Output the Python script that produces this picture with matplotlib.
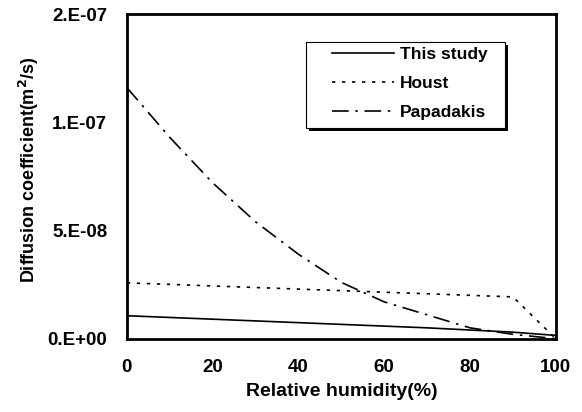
import numpy as np
import matplotlib
matplotlib.use("Agg")
import matplotlib.pyplot as plt
from matplotlib.patches import Rectangle
from matplotlib.ticker import FuncFormatter

plt.rcParams['font.family'] = ['Liberation Sans', 'DejaVu Sans']
plt.rcParams['font.weight'] = 'bold'

# Relative humidity (%)
rh = [0, 10, 20, 30, 40, 50, 60, 70, 80, 90, 100]
# diffusion coefficients (m2/s)
this_study = [10.6e-9, 9.8e-9, 9.0e-9, 8.2e-9, 7.4e-9, 6.6e-9, 5.8e-9, 5.0e-9, 4.0e-9, 3.0e-9, 1.5e-9]
houst_rh = [0, 90, 100]
houst = [25.8e-9, 19.3e-9, 0.0]
papadakis = [116e-9, 93e-9, 72e-9, 54e-9, 39e-9, 26e-9, 17e-9, 11e-9, 5e-9, 2e-9, 0.0]

yticks = [0, 5e-8, 1e-7, 1.5e-7]

def sci_fmt(v, pos):
    if v == 0:
        return '0.E+00'
    e = int(np.floor(np.log10(abs(v))))
    m = v / 10**e
    return f'{m:.0f}.E{e:+03d}'

fig = plt.figure(figsize=(5.82, 4.12), dpi=100)
ax = fig.add_axes([0.218, 0.178, 0.737, 0.788])

ax.plot(rh, this_study, color='black', lw=1.2, label='This study')
ax.plot(houst_rh, houst, color='black', lw=1.2, linestyle=(0, (2, 4)), label='Houst')
ax.plot(rh, papadakis, color='black', lw=1.2, linestyle=(0, (10, 4, 1.5, 4)), label='Papadakis')

ax.set_xlim(0, 100)
ax.set_ylim(0, 1.5e-7)
ax.set_xticks([0, 20, 40, 60, 80, 100])
ax.set_yticks(yticks)
ax.yaxis.set_major_formatter(FuncFormatter(sci_fmt))
ax.tick_params(length=0, labelsize=13.5)
ax.tick_params(axis='y', pad=14)
ax.tick_params(axis='x', pad=15)
for s in ax.spines.values():
    s.set_linewidth(2)

ax.set_xlabel('Relative humidity(%)', fontsize=14, fontweight='bold', labelpad=5)
ax.set_ylabel('Diffusion coefficient(m$^\\mathbf{2}$/s)', fontsize=13, fontweight='bold')
ax.yaxis.set_label_coords(-0.2, 0.52)

# legend frame with dark drop shadow
ax.add_patch(Rectangle((0.424, 0.641), 0.464, 0.264, transform=ax.transAxes,
                       facecolor='black', edgecolor='none', zorder=4))
ax.add_patch(Rectangle((0.417, 0.650), 0.464, 0.264, transform=ax.transAxes,
                       facecolor='white', edgecolor='black', lw=0.8, zorder=5))
leg = ax.legend(loc='upper left', bbox_to_anchor=(0.478, 0.899), fontsize=12.5, frameon=False,
                handlelength=3.6, handletextpad=0.3, labelspacing=0.8, borderpad=0,
                borderaxespad=0)
leg.set_zorder(6)

fig.savefig('out.png', dpi=100)
